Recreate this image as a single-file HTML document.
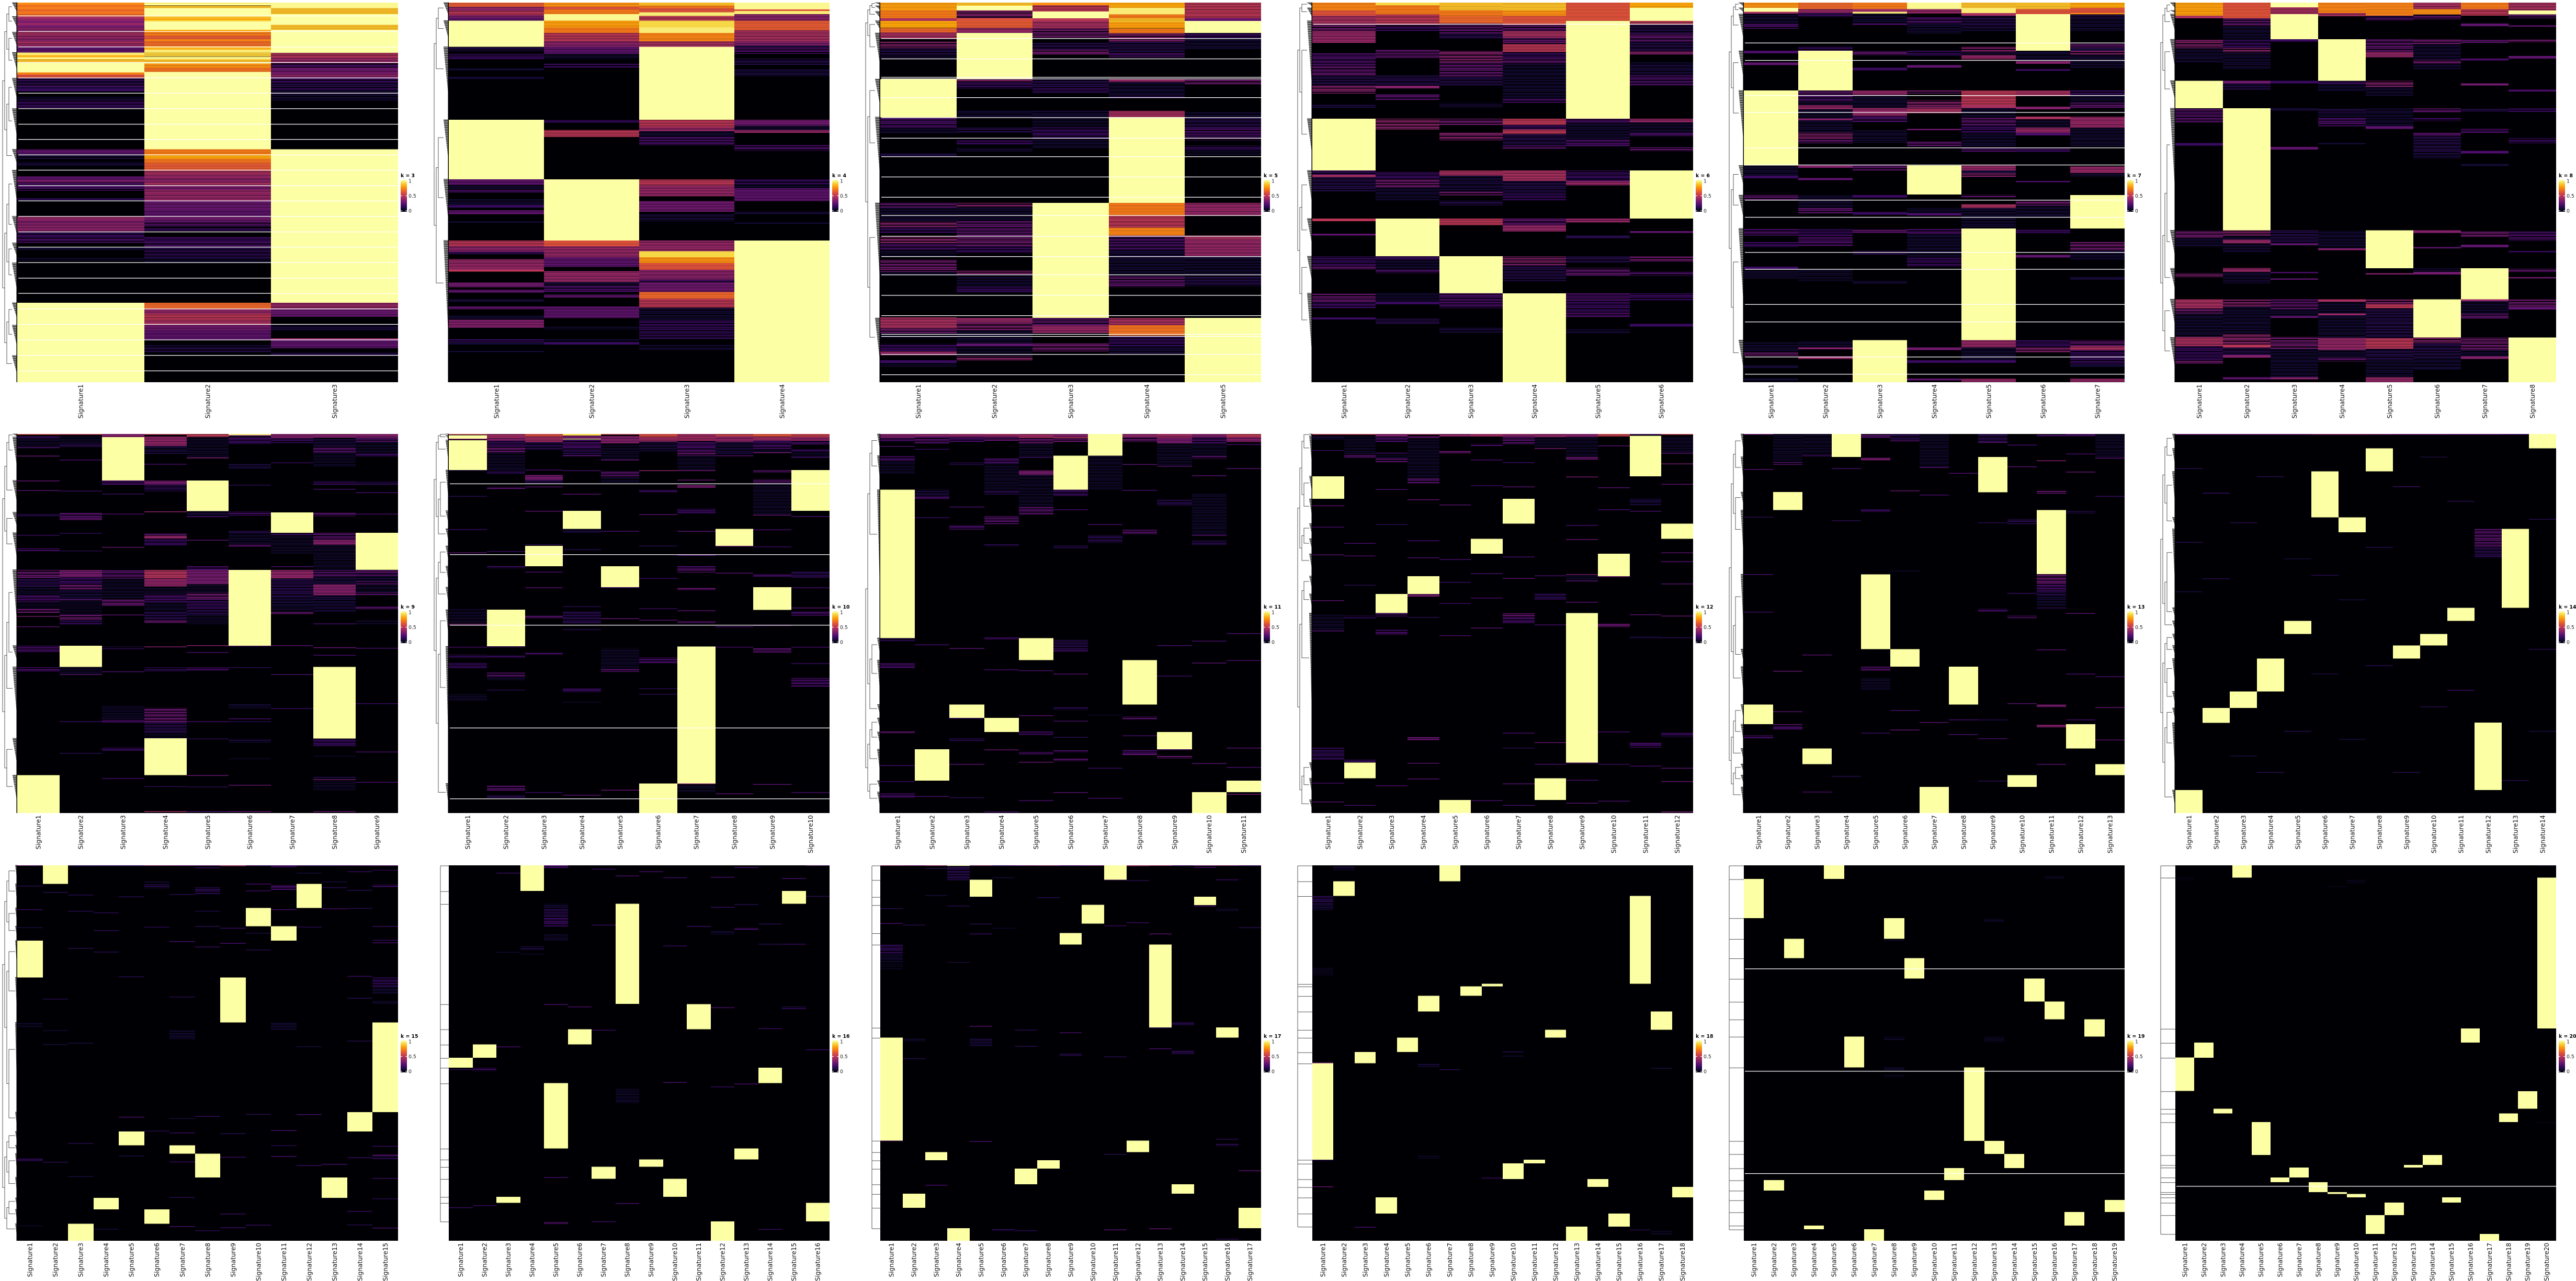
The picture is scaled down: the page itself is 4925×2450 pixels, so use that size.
<!DOCTYPE html>
<html lang="en">
<head>
<meta charset="utf-8">
<title>Signature heatmaps, k = 3 to k = 20</title>
<style>
html,body{margin:0;padding:0;background:#fff;width:4925px;height:2450px;overflow:hidden}
svg{display:block}
text{font-family:"DejaVu Sans","Liberation Sans",sans-serif}
</style>
</head>
<body>
<svg id="figure" xmlns="http://www.w3.org/2000/svg" width="4925" height="2450" viewBox="0 0 4925 2450">
<rect x="0" y="0" width="4925" height="2450" fill="#ffffff"/>
</svg>
<script>
/* Row data: every column is a flat list of (start row, value) pairs; a run ends at the next start row. */
const inferno = ["#000004","#160b39","#420a68","#6a176e","#932667","#bc3754","#dd513a","#f37819","#fca50a","#f6d746","#fcffa4"];
const legendTicks = [0,0.5,1];
const legendTickLabels = ["0","0.5","1"];

const k3Domain=[10,1381];
const k3Gaps=[58,114,170,226,282,337,393,449,504,560,615,671,726,782,838,893,949,1005,1060,1116,1172,1228,1284,1340];
const k3Clades=[10,60,117,190,283,393,540,615,782,878,950,1094,1175,1285];
const k3Columns=[
[10,.75,18,.68,26,.72,34,.65,42,.7,50,.66,60,.5,68,.42,76,.38,84,.45,92,.35,100,.42,117,.5,128,.45,140,.42,150,.5,160,.45,170,.3,190,.95,200,.82,207,.98,214,.85,226,1,262,.72,270,.6,283,.2,295,.15,305,.25,315,.12,322,.2,330,.03,337,0,350,.1,362,.2,390,0,540,.3,558,.12,575,.03,585,.12,600,.05,612,0,637,.3,650,.38,660,.25,672,.25,690,0,716,.15,724,0,782,.45,795,.4,815,.42,838,.2,860,.25,878,.02,895,.1,905,0,930,.08,945,0,1094,1],
[10,.95,15,1,20,.85,30,1,60,.85,68,.8,73,.9,78,1,108,.8,117,.7,130,.62,142,.72,150,.66,168,.85,172,.82,180,.95,190,.88,205,.97,215,.85,226,1,230,.75,245,.68,260,1,540,.7,558,.8,575,.68,590,.62,617,.5,632,.45,645,.42,660,.5,672,.38,686,.45,728,.33,760,.3,782,.35,800,.28,818,.02,825,.2,838,.05,855,.22,875,.25,895,.17,932,.1,950,.05,970,0,1094,.65,1118,.45,1134,.55,1155,.5,1175,.35,1195,.3,1228,.02,1245,.1,1255,.15,1272,.05,1285,0],
[10,.98,30,.85,52,1,90,.85,108,1,191,.52,210,.45,229,.25,245,.35,265,.42,283,.22,300,.15,315,.2,325,.12,338,.1,365,0,387,.03,393,0,540,1,1094,.45,1118,.33,1145,.05,1175,.12,1195,0,1222,.45,1228,.3,1258,.05,1272,.15,1285,0]
];

const k4Domain=[10,1381];
const k4Gaps=[];
const k4Columns=[
[10,.62,25,.45,40,.55,55,.4,65,.3,75,1,170,.15,185,.05,195,.2,215,0,248,.1,255,.05,278,.1,286,0,433,1,648,.3,668,.1,682,.25,695,.05,720,.1,742,.2,750,.02,760,.3,775,.05,800,.1,805,0,869,.55,890,.42,910,.2,920,.02,936,.45,975,.55,982,0,1020,.35,1038,.05,1047,.3,1058,.05,1082,.1,1090,0,1107,.3,1118,.05,1140,.1,1155,.4,1185,0,1225,.2,1237,.1,1245,.05,1268,.1,1272,0],
[10,.75,25,.6,35,.7,52,.98,75,.78,100,.7,120,.55,150,.42,170,.3,195,.1,215,.02,230,.2,245,.05,250,0,433,.2,445,.05,470,.55,495,.02,547,.05,560,0,648,1,869,.6,890,.45,930,.3,965,.02,980,.45,1020,.1,1030,.25,1055,.05,1065,.3,1075,.02,1107,.3,1150,.02,1180,.1,1190,.02,1225,.1,1237,.2,1245,.02,1270,0],
[10,.85,20,.7,30,.6,45,.95,58,.55,75,.9,100,.95,120,.72,150,.5,170,1,433,.55,460,.45,475,.1,495,.25,527,.02,550,.05,560,0,648,.55,670,.45,710,.02,727,.35,765,.05,775,.12,800,.03,815,0,869,.45,908,.9,930,.75,950,.6,975,.42,1010,.25,1020,.35,1055,.65,1080,.55,1112,.1,1155,.2,1182,.18,1225,.05,1245,.1,1268,0],
[10,.98,35,.6,40,.95,52,.42,75,.62,110,.5,150,.4,165,.1,170,.25,195,.05,212,.15,235,.05,250,.12,278,0,433,.35,455,.1,470,.45,480,.05,525,.25,545,.05,558,0,648,.2,665,.1,680,.3,727,.05,765,.12,775,.05,800,.1,810,0,869,1]
];

const k5Domain=[10,1469];
const k5Gaps=[148,226,297,303,375,452,531,602,680,758,828,908,986,1056,1135,1213,1285,1293,1362,1440];
const k5Columns=[
[10,.78,40,.7,70,.5,80,.8,108,.65,125,.5,150,.05,160,.4,185,.15,210,.08,226,0,304,1,451,.25,490,.1,515,.02,590,.12,600,0,780,.3,800,.1,850,.4,875,.2,895,.02,910,.42,935,.25,960,.08,986,0,998,.35,1045,.1,1060,0,1220,.5,1262,.35,1280,.1,1300,.05,1320,.2,1350,.45,1365,.05,1385,.2,1395,.08,1410,0],
[10,.85,22,1,40,.4,70,.6,80,.62,108,.45,127,1,304,.4,315,.2,340,0,426,.1,450,.03,490,.15,510,.05,540,.22,555,.02,570,.12,582,0,780,.4,795,.1,850,.3,875,.3,905,.35,945,.2,975,.05,1040,.4,1055,.1,1102,.2,1125,0,1222,.45,1240,.38,1270,.1,1320,.3,1330,.08,1370,.42,1385,0],
[10,.75,20,.55,44,1,70,.55,80,.5,110,.35,145,.05,165,.15,190,.35,210,.05,226,0,304,.15,335,.18,360,.05,426,.12,450,.08,490,.2,530,.1,570,.02,600,0,780,1,1222,.3,1250,.45,1280,.05,1320,.35,1350,.05,1400,0],
[10,.8,30,.95,55,.7,70,.85,85,.78,110,.7,128,.4,160,.15,205,.25,220,0,304,.45,315,.1,364,.15,375,0,426,.5,450,1,780,.7,830,.55,875,.72,905,.25,960,.12,1000,.1,1060,.3,1105,.05,1125,0,1222,.5,1250,.68,1290,.2,1330,.12,1360,.05,1410,0],
[10,.55,70,.3,80,1,127,.2,145,.1,190,.02,226,0,304,.35,325,.05,345,0,430,.1,450,.15,490,.25,540,.05,560,.2,575,.08,600,0,780,.45,830,.05,905,.5,920,.45,985,.1,1060,.15,1100,0,1222,1]
];

const k6Domain=[10,1469];
const k6Gaps=[93];
const k6Columns=[
[10,.72,40,.6,60,.5,95,.35,120,.45,165,.05,205,.25,250,.3,290,.15,330,.4,360,.05,400,.12,415,0,456,1,655,.2,672,.5,680,.15,735,0,840,.55,850,.05,898,.3,905,0,985,.2,1020,.3,1035,.05,1080,0,1127,.32,1160,.22,1185,.05,1220,.2,1228,.05,1265,0],
[10,.9,20,.7,55,.55,95,.2,120,.05,190,.3,225,.05,290,.15,330,.4,340,.05,362,.28,385,.05,415,0,456,.42,497,.05,600,0,660,.2,690,.35,720,.1,770,.05,780,0,840,1,985,.2,1000,.1,1035,.25,1050,.05,1080,0,1127,.1,1160,.2,1170,.05,1225,.15,1245,.03,1265,0],
[10,.85,40,.7,60,.65,90,.3,130,.15,150,.05,195,.4,240,.3,295,.15,330,.05,395,.1,415,0,456,.35,480,.05,510,.4,540,.05,600,0,655,.5,675,.12,735,.35,750,.05,770,.15,790,0,840,.55,865,0,985,1,1127,.25,1185,.05,1260,.12,1280,0],
[10,.85,40,.75,60,.6,95,.3,120,.5,145,.32,170,.55,200,.2,225,.3,245,.1,380,.25,395,.05,420,0,456,.55,480,.2,497,.55,515,.15,560,.3,572,.05,600,0,655,.5,695,.15,745,.2,770,.05,790,0,840,.3,865,.45,890,.05,920,0,985,.4,1020,.15,1080,0,1127,1],
[10,.6,80,1,456,.25,475,.1,535,.25,565,.05,600,0,655,.2,695,.45,712,.05,740,0,840,.45,855,.05,905,.15,915,0,985,.15,1010,.05,1030,.3,1060,.05,1127,.25,1160,.2,1197,.25,1220,.05,1265,.1,1282,0],
[10,.8,30,1,80,.55,95,.15,130,.3,160,.15,195,.4,210,.05,240,.12,290,.25,330,.05,415,0,456,.45,470,.1,510,.25,525,.05,565,.3,580,0,655,1,840,.05,888,.3,895,0,985,.35,1005,.05,1045,.25,1060,0,1127,.2,1155,.05,1245,.2,1255,0]
];

const k7Domain=[10,1469];
const k7Gaps=[165,232,367,432,568,634,769,835,970,1035,1170,1237,1372,1438];
const k7Columns=[
[10,.75,30,1,45,.5,52,.1,90,.25,110,.05,165,0,195,.25,205,.05,240,.3,250,.05,285,0,348,1,636,.1,675,.2,685,.05,705,0,748,.3,770,.05,825,0,880,.25,905,.05,930,.22,950,.05,1025,.2,1035,.1,1070,0,1315,.1,1355,.35,1368,.05,1405,.1,1415,0,1455,.1,1462,0],
[10,.65,35,.45,50,.2,65,.05,120,0,180,.2,195,1,348,.3,368,.25,390,.1,405,.45,420,.1,455,.4,462,.1,510,.4,535,.3,552,0,585,.05,636,.4,645,.05,684,.3,692,.05,748,.1,800,.3,820,.05,880,.2,905,.25,945,.05,1035,.08,1080,0,1310,.1,1335,.4,1342,.05,1370,.45,1380,0],
[10,.7,35,.45,45,.95,52,.1,90,.25,95,0,165,.05,195,.3,215,.05,260,.2,270,.05,340,0,348,.45,365,.1,415,.45,445,.25,470,.05,500,.1,550,0,636,.3,655,.05,700,0,750,.2,760,.05,815,.2,825,0,880,.3,895,.05,965,.2,978,.05,1035,.05,1080,.08,1090,0,1307,1],
[10,.98,35,.45,52,.02,65,.25,90,.1,130,0,195,.2,215,.05,250,.3,260,.02,340,0,348,.35,360,.05,385,.4,415,.5,435,.05,495,.35,500,.03,545,.3,565,0,636,1,748,.05,800,.1,820,.25,828,0,880,.25,900,.1,990,.2,1025,.05,1035,0,1335,.35,1345,.05,1385,.2,1395,0,1455,.3,1462,0],
[10,.85,30,.95,50,.5,60,.15,105,.1,120,0,180,.4,200,.1,212,.45,228,.05,290,0,348,.55,405,.5,415,.1,450,.3,480,.2,510,.1,570,.25,585,.05,636,.45,655,.1,665,.4,680,.05,748,.3,760,.05,785,.5,800,.1,878,1,1307,.45,1335,.1,1385,.2,1395,0,1455,.45,1468,0],
[10,.85,35,.6,54,1,195,.1,235,.4,245,.05,265,.2,272,0,348,.5,370,.05,410,.4,420,.05,448,.5,458,.1,490,.45,510,.25,520,.05,570,.2,585,0,636,.05,695,.25,700,0,770,.35,790,.1,835,0,880,.2,900,.05,980,.3,990,.05,1035,0,1307,.2,1335,.4,1355,.05,1410,0],
[10,.8,30,.6,50,.75,55,.15,70,.1,120,0,165,.3,185,.1,195,.4,210,.1,260,0,348,.2,365,.1,395,.3,415,.05,448,.45,490,.1,522,.1,565,0,640,.45,665,.1,680,.05,750,1,878,.05,930,.35,965,.1,1000,0,1065,.1,1075,0,1307,.3,1330,.5,1345,.2,1400,.1,1410,0,1455,.45,1468,0]
];

const k8Domain=[10,1469];
const k8Gaps=[];
const k8Columns=[
[10,.78,60,.5,70,.05,152,.4,185,.1,240,.05,310,1,416,.28,470,.05,550,.2,560,.05,615,0,885,.35,915,.1,950,0,1050,.38,1065,.05,1085,0,1150,.5,1185,.35,1205,.1,1295,.5,1330,.2,1385,.35,1400,.05,1465,0],
[10,.6,70,.3,100,.1,155,.2,185,.42,200,.1,265,.05,310,.35,320,.15,345,0,416,1,885,.4,905,.1,920,.45,935,.1,970,0,1030,.45,1045,.1,1090,0,1150,.4,1180,.1,1283,.42,1325,.55,1335,.15,1365,.4,1375,.05,1450,.3,1458,0],
[10,1,28,.5,54,1,151,.2,160,.02,300,0,310,.2,320,.05,416,.1,425,0,565,.3,575,.05,630,0,885,.15,935,.3,942,0,1045,.25,1050,.05,1070,.3,1075,0,1150,.3,1190,.1,1215,.3,1222,.05,1295,.35,1340,.1,1450,.4,1458,0],
[10,.72,50,.5,62,.05,151,1,310,.2,325,.1,350,.02,416,.15,435,.1,452,.25,485,.02,550,.1,555,0,885,.1,955,.4,962,.05,1000,0,1150,.5,1160,.1,1205,.45,1212,.1,1298,.45,1345,.1,1375,.3,1390,.05,1410,0],
[10,.72,60,.25,80,.05,151,.3,200,.45,220,.05,310,.4,335,.1,370,.05,416,.1,485,.3,495,.05,575,.05,600,0,885,1,1031,.05,1050,.4,1055,0,1150,.4,1170,.55,1185,.15,1300,.55,1340,.15,1385,.1,1450,.45,1468,0],
[10,.5,35,.75,55,.3,75,.05,152,.35,170,.1,230,.35,245,.1,265,0,310,.05,416,.3,435,.05,452,.22,465,.05,510,.28,525,.15,590,.12,610,0,885,.4,895,.05,950,.3,955,0,1031,.1,1045,.35,1055,.02,1150,1,1297,.4,1320,.15,1375,.1,1415,.1,1420,0],
[10,.7,35,.55,60,.05,90,.3,100,0,152,.3,165,.05,225,.25,232,0,320,.35,328,0,416,.15,430,.02,495,.25,510,.02,580,.25,590,.02,630,.1,638,0,890,.35,910,.05,940,.3,950,.02,1031,1,1150,.45,1158,.1,1205,.3,1225,.05,1297,.35,1345,.1,1370,.4,1380,.05,1450,0],
[10,.5,40,1,55,.3,70,.05,97,.3,102,0,152,.35,165,.05,215,.3,225,.05,345,.25,352,0,416,.2,430,.05,530,.2,552,.05,625,.05,630,0,890,.25,925,.05,965,.2,970,0,1031,.3,1045,.02,1065,.35,1070,0,1150,.35,1180,.3,1190,0,1297,1]
];

const k9Domain=[57,1427];
const k9Gaps=[];
const k9Columns=[
[57,.8,65,.25,75,.1,105,.35,112,.02,135,.4,142,0,225,.4,228,.02,260,.35,264,0,345,.2,355,.02,422,.25,430,.05,470,.3,480,.05,548,.4,580,.2,610,.1,640,.3,665,.08,688,.42,703,.05,715,.45,720,.05,752,.35,760,0,822,.3,848,.02,900,.3,915,0,1290,1],
[57,.7,66,.1,90,.2,105,.02,150,.3,155,0,225,.05,262,.25,268,0,342,.35,365,.4,372,0,415,.2,420,.02,478,.2,482,0,548,.45,575,.25,600,.42,620,.15,655,.4,660,.08,710,.42,730,.2,742,.3,748,0,822,1,899,.1,925,.35,932,0,1095,.25,1100,0,1210,.2,1215,0],
[57,.5,68,1,225,.3,240,.05,272,.25,278,0,345,.3,350,.02,465,.4,472,.05,548,.35,580,.1,655,.4,680,.05,710,.35,716,0,825,.2,835,.02,915,.3,922,0,1040,.1,1090,.3,1100,.05,1190,.25,1202,0,1300,.3,1305,0],
[57,.7,66,.55,100,.15,130,.05,165,.3,172,.02,225,.45,240,.2,265,.05,280,0,337,.55,345,.02,415,.35,425,.55,435,.25,460,.05,548,.65,580,.55,608,.1,635,.3,665,.1,700,.2,730,.4,742,.05,825,.5,830,.02,900,.2,915,.02,940,.05,965,0,1045,.4,1100,.2,1140,.08,1157,1,1290,.02,1330,.2,1335,0,1420,.6],
[57,.7,67,.1,142,.5,150,.05,225,1,336,.15,355,.3,362,.05,440,.35,445,0,535,.3,548,.45,600,.1,630,.42,655,.25,690,.2,710,.1,745,0,820,.5,824,.05,845,.3,850,.05,900,.3,912,0,1095,.3,1100,0,1158,.2,1165,0,1290,.4,1298,0,1332,.2,1338,0,1420,.3],
[57,.95,62,.3,82,.25,95,.05,165,.15,182,.02,240,.2,248,0,338,.3,352,.05,405,.2,415,.1,455,.35,465,.05,505,0,548,1,822,.25,830,.02,900,.2,905,0,1032,.12,1048,0,1085,.3,1090,.02,1095,.2,1102,0,1160,.15,1172,.02,1230,.1,1235,0,1325,.4,1330,.02,1420,.4],
[57,.5,72,.25,90,.05,160,.25,165,0,340,1,414,.25,425,.1,490,.05,535,.3,540,.02,548,.55,580,.2,645,.15,680,.1,700,.4,710,.05,740,0,820,.35,825,.05,925,.3,930,0,1048,.25,1052,0],
[57,.5,70,.15,103,.35,125,.1,175,0,228,.25,240,.05,255,.3,262,0,340,.35,355,.05,414,.35,440,.5,458,.1,548,.35,575,.15,600,.5,640,.15,700,.05,742,.3,750,.02,780,0,828,.4,833,.02,855,.3,860,0,899,1,1158,.25,1188,.02,1220,.1,1226,0,1295,.15,1305,.45,1312,.1,1345,0,1420,.4,1423,0],
[57,.5,70,.35,85,.1,125,.25,140,.05,175,0,228,.2,240,.02,268,.3,272,0,345,.3,352,.02,414,1,548,.35,570,.15,590,.35,600,.1,630,.35,640,.05,680,.35,690,.05,730,.1,745,0,830,.3,838,0,1030,.25,1034,0,1205,.3,1212,0,1315,.3,1320,0]
];

const k10Domain=[60,1468];
const k10Gaps=[245,508,770,1152,1415];
const k10Columns=[
[60,.75,65,1,77,.5,83,1,194,.15,203,.02,290,.2,296,0,413,.25,418,.02,500,.35,505,.02,710,.1,765,.45,772,.02,850,.3,855,.05,880,.22,892,.02,910,.25,932,.02,1025,.1,1052,.05,1060,0],
[60,.6,75,.5,85,.25,110,.4,128,.1,194,.2,210,.05,255,.35,265,.02,495,.25,503,.02,550,.25,560,.02,713,1,849,.25,857,.05,882,.25,892,.05,947,.35,962,.1,975,.05,1010,.2,1015,0,1365,.35,1385,.05,1400,.2,1412,0],
[60,.8,70,.6,90,.2,120,.05,192,.3,197,.05,212,.45,232,.2,245,.02,255,.35,260,.02,345,.35,350,.02,470,.2,476,1,551,.05,572,.3,577,.02,630,.35,638,.02,735,.35,745,.02,872,.3,882,.05,1390,.25,1395,0],
[60,.9,66,.45,77,.98,80,.3,115,.2,140,.35,145,.02,195,.3,200,.02,282,.35,290,0,345,1,412,.15,428,.02,488,.2,492,0,700,.2,704,.02,720,.2,745,.2,760,.2,765,.02,785,.2,790,0,1005,.25,1020,.02,1055,.1,1062,0,1400,.35,1405,0],
[60,.7,68,.5,92,.5,100,.1,155,.4,163,.05,200,.35,220,.1,245,.02,290,0,420,.3,424,0,551,1,629,.25,636,.02,745,.4,750,.02,855,.1,932,.35,945,.02,1382,.4,1390,0],
[60,.8,72,.6,88,.15,125,.05,195,.55,199,.02,268,.25,278,.02,345,.05,358,.35,363,.02,475,.2,480,.02,595,.25,600,.02,708,.25,713,.02,750,.35,755,.02,890,.3,912,.02,1005,.2,1010,0,1025,.2,1030,0,1358,1],
[60,.6,85,.3,125,.4,140,.1,195,.45,200,.02,230,.4,235,.02,250,.45,260,.02,338,.25,358,.02,420,.35,425,.02,510,.3,515,.02,550,.3,560,.35,575,.02,630,.4,640,.02,715,.35,722,.02,755,.35,765,.02,849,1,1358,.45,1365,.1,1390,0],
[60,.75,70,.55,90,.15,140,.35,145,.02,412,1,476,.35,485,.02,576,.35,580,.02,775,.3,782,.02,850,.3,855,0,1395,.35,1400,0],
[60,.85,70,.6,85,.25,96,.3,115,.1,128,.45,132,.05,195,.35,205,.05,228,.35,243,.1,360,.4,365,.02,414,.3,422,.02,478,.25,485,.02,580,.3,590,.02,629,1,713,.05,770,.3,778,.02,855,.35,872,.02,1360,.35,1368,0],
[60,.75,72,.55,85,.3,100,.05,115,.25,125,.1,145,.3,152,.02,194,1,345,.05,365,.3,370,0,570,.2,590,.25,595,.02,630,.3,636,.02,705,.35,712,.02,720,.3,735,.05,850,.3,855,.05,912,.25,920,.05,965,.3,1000,.05,1055,0,1390,.3,1394,0]
];

const k11Domain=[60,1468];
const k11Gaps=[];
const k11Columns=[
[60,.5,75,.3,90,.05,105,.3,110,0,143,.3,160,.1,210,.05,230,0,267,1,818,.2,830,.05,870,0,912,.3,932,.05,960,.05,975,0,1165,.4,1175,.02,1235,.05,1290,.3,1298,.05,1350,.25,1355,.02,1395,.3,1412,.05,1425,0],
[60,.55,70,.35,95,.05,115,.25,120,0,267,.15,290,.3,303,.02,370,.25,375,0,842,.3,847,0,1231,1,1348,.05,1405,.3,1410,0],
[60,.55,72,.3,90,.05,165,.2,175,.02,330,.3,335,.02,397,.3,415,.02,855,.35,860,.02,1065,1,1115,.25,1120,.02,1190,.2,1200,0,1285,.35,1292,0,1410,.2,1416,0],
[60,.6,70,.4,85,.05,150,.3,170,.1,270,.2,285,.02,365,.35,395,.05,470,.2,480,0,815,.3,825,.02,935,.3,940,0,1115,1,1167,.02,1232,.4,1240,.02,1462,.3,1466,0],
[60,.6,75,.4,95,.1,145,.3,150,.02,195,.45,212,.1,330,.35,360,.05,400,0,818,1,900,.02,938,.3,945,0,1105,.35,1110,0,1165,.3,1178,.02,1240,.3,1250,.02,1278,.4,1285,.02,1420,.3,1425,0],
[60,.5,72,.7,76,.4,90,.05,141,1,267,.25,292,.05,340,.3,345,.02,475,.2,485,0,825,.2,865,.3,870,0,950,.35,955,0,1075,.2,1085,0,1125,.3,1130,0,1185,.2,1190,0,1235,.3,1245,.05,1265,.35,1278,.05,1390,.35,1396,0],
[60,1,141,.1,268,.05,395,.3,402,.05,435,.2,465,.05,480,0,1103,.1,1110,0,1300,.25,1305,0,1412,.3,1420,0],
[60,.55,72,.4,90,.05,172,.35,180,.02,268,.3,272,.02,415,.35,432,.02,900,1,1065,.02,1110,.35,1122,.02,1180,.3,1185,.02,1232,.3,1250,.4,1258,.02],
[60,.6,75,.45,95,.1,178,.35,187,.02,305,.2,327,.02,845,.3,850,.02,958,.25,962,.02,1167,1,1231,.3,1240,.05,1255,.4,1265,.02],
[60,.5,72,.3,95,.1,142,.35,152,.05,213,.35,217,.02,280,.1,435,.35,438,.02,455,.2,472,.02,828,.3,832,.02,910,.35,915,.02,1283,.35,1287,.02,1390,1],
[60,.7,72,.5,90,.05,98,.3,105,.02,187,.35,195,.02,800,.3,808,.02,900,.3,908,.02,1225,.35,1232,.02,1297,.3,1302,.02,1348,1,1390,0,1397,.4,1402,0]
];

const k12Domain=[60,1468];
const k12Gaps=[];
const k12Columns=[
[60,.7,68,.15,80,.05,120,.25,125,0,217,1,301,.05,325,.35,332,0,405,.3,408,0,508,.35,512,0,678,.35,682,0,730,.1,790,.35,795,0,1225,.22,1270,.02,1355,.3,1358,0,1425,.35,1430,0],
[60,.7,68,.1,135,.35,148,.02,465,.3,468,0,512,.3,516,0,620,.2,625,0,735,.25,745,0,1270,.25,1281,1,1339,0,1438,.3,1442,0],
[60,.5,70,.3,90,.05,130,.3,138,.1,150,.35,165,.02,265,.3,269,0,395,.2,400,0,654,1,725,.3,738,.05,787,.3,808,.05,820,0,1365,.3,1368,0],
[60,.6,68,.4,78,.1,225,.35,243,.02,303,.4,308,0,455,.3,459,0,518,.3,522,0,588,1,654,.45,664,.02,740,.2,745,0,1185,.4,1200,0,1282,.35,1286,0,1340,.35,1344,0],
[60,.55,70,.05,122,.4,132,.02,322,.35,326,0,525,.3,529,0,610,.25,614,0,688,.25,692,0,808,.3,812,0,1419,1],
[60,.6,70,.05,95,.3,105,.05,155,.3,162,.02,250,.25,254,0,449,1,505,.05,578,.3,582,0,668,.3,672,0,780,.35,788,0,1420,.3,1425,0],
[60,.55,70,.35,98,.05,165,.25,170,0,255,.35,260,0,301,1,393,.05,515,.3,520,0,595,.35,602,0,725,.4,740,.3,765,.02,1170,.3,1175,.02,1225,.2,1232,0,1358,.35,1362,0,1438,.3,1442,0],
[60,.55,72,.1,112,.45,120,.02,585,.3,590,0,650,.2,672,.25,680,.02,768,.3,772,0,1205,.4,1210,.02,1285,.3,1290,0,1339,1,1419,0],
[60,.5,72,.1,145,.4,155,.02,218,.45,226,.02,398,.3,402,0,450,.4,456,0,580,.45,585,.1,605,.35,610,0,683,.35,688,0,725,1,1281,.3,1290,.02,1345,.3,1350,0,1430,.35,1435,0],
[60,.75,70,.05,103,.35,110,.05,258,.35,262,0,340,.3,344,0,505,1,588,.4,592,0,765,.4,780,.02,1165,.3,1170,.02,1285,.25,1290,0,1422,.3,1426,0],
[60,.3,67,1,217,.05,300,.15,325,.02,345,.3,349,0,730,.35,735,0,810,.15,820,.02,1207,.3,1225,.02,1292,.3,1295,0],
[60,.75,68,.1,130,.35,135,.02,170,.45,178,.02,245,.35,250,0,393,1,449,0,500,.35,505,0,533,.35,538,0,615,.35,620,0,735,.4,740,.02,815,.2,820,0,1170,.25,1185,.02,1300,.35,1304,0,1350,.4,1354,0,1462,.45,1468,0]
];

const k13Domain=[60,1468];
const k13Gaps=[];
const k13Columns=[
[60,.4,66,.02,190,.35,196,0,368,.2,372,0,580,.3,585,.02,720,.25,724,0,1065,1,1138,.02,1180,.3,1190,.02],
[60,.1,165,.35,175,.02,276,1,343,.02,940,.4,946,.02,1090,.35,1096,.02,1138,.4,1145,.3,1157,.02],
[60,.1,140,.3,144,.02,880,.35,884,0,1228,1,1286,.02,1388,.3,1392,0],
[60,1,145,.02,187,.3,190,0,380,.2,385,0,1330,.2,1338,0],
[60,.35,75,.05,148,.45,158,.02,340,.25,350,.02,581,1,859,.05,924,.35,940,.02,968,.1,1010,0,1170,.25,1175,0],
[60,.2,84,.35,92,.02,270,.4,278,.02,568,.12,575,0,859,1,924,.02,1085,.3,1090,0,1158,.4,1166,.02],
[60,.1,183,.35,186,0,285,.3,290,0,1130,.35,1135,0,1371,1],
[60,.05,205,.3,208,0,924,1,1065,.02,1120,.3,1125,.02,1175,.3,1178,0],
[60,.2,90,.35,97,.02,145,1,276,.02,388,.2,392,0,710,.3,720,.02,1120,.2,1125,.02,1190,.3,1195,0,1348,.2,1355,0],
[60,.05,100,.3,104,0,180,.35,184,0,375,.2,395,.05,650,.25,658,.02,735,.35,745,.02,1060,.35,1065,0,1327,1,1371,0],
[60,.3,70,.02,158,.5,165,.02,272,.4,282,0,343,1,581,.4,620,.3,645,.2,660,.12,700,.02,705,.25,710,0,860,.35,865,0,1065,.45,1075,.02,1140,.5,1150,.02,1285,.35,1290,0],
[60,.3,70,.02,133,.3,137,.02,200,.4,204,0,345,.2,355,.02,725,.35,730,0,950,.3,958,0,1120,.3,1125,.02,1138,1,1228,.02],
[60,.1,148,.35,152,0,290,.25,295,.02,960,.3,965,0,1075,.4,1082,.02,1195,.35,1198,.02,1286,1,1327,0]
];

const k14Domain=[264.2,495];
const k14Gaps=[];
const k14Columns=[
[264.2,.4,265.5,0,285,.2,286,0,330,.2,331,0,360,.15,361,0,481,1],
[264.2,.4,265.5,0,300,.25,301,0,352,.2,353,0,431,1,440,0],
[264.2,.4,265.5,0,318,.2,319,0,421,1,431,0,460,.15,461,0],
[264.2,.4,265.5,0,290,.2,291,0,401,1,421,0,470,.2,471,0],
[264.2,.4,265.5,0,340,.15,341,0,378,1,386,0,445,.2,446,0],
[264.2,.5,265.5,0,287,1,315,0,350,.2,351,0,410,.15,411,0],
[264.2,.5,265.5,0,315,1,324,0,365,.15,366,0,450,.15,451,0],
[264.2,.45,265.5,0,273,1,287,0,333,.2,334,0,405,.2,406,0],
[264.2,.4,265.5,0,296,.25,297,0,393,1,401,0,470,.2,471,0],
[264.2,.4,265.5,0,278,.15,279,0,386,1,393,0,430,.2,431,0],
[264.2,.35,265.5,0,305,.2,306,0,370,1,378,0,420,.25,421,0],
[264.2,.35,265.5,0,322,.35,333,.2,340,.05,346,0,440,1,481,0],
[264.2,.3,265.5,0,322,1,370,0,475,.2,476,0],
[264.2,1,273,0,316,.2,317,0,395,.2,396,0,445,.15,446,0]
];

const k15Domain=[66,1423];
const k15Gaps=[];
const k15Columns=[
[66,.4,68,0,140,.2,148,0,225,.25,230,0,290,.15,297,0,338,1,471,0,635,.1,650,.05,660,0,1125,.22,1135,0,1368,.15,1370,0],
[66,1,133,0,162,.2,166,0,548,.2,552,0,662,.12,666,0,712,.15,717,0,1138,.2,1142,0],
[66,.2,72,0,172,.2,176,0,230,.2,234,0,365,.2,370,0,708,.15,712,0,1070,.2,1074,0,1190,.15,1194,0,1362,1],
[66,.3,68,0,236,.2,240,0,300,.2,304,0,378,.2,382,0,1268,1,1310,0,1380,.15,1384,0],
[66,.3,68,0,178,.2,183,0,468,.2,472,0,975,.3,980,0,1028,1,1078,0,1115,.15,1120,0],
[66,.45,68,0,125,.15,133,.2,148,0,288,.2,292,0,1025,.2,1030,0,1310,1,1362,0],
[66,.4,68,0,170,.2,174,0,340,.3,344,0,540,.2,545,0,662,.12,695,0,980,.15,984,0,1032,.25,1036,0,1078,1,1108,0,1137,.25,1141,0,1265,.2,1269,0,1370,.3,1373,0],
[66,.4,68,0,74,.25,78,0,145,.2,170,0,230,.15,234,0,285,.2,289,0,360,.25,364,0,972,.25,977,0,1108,1,1194,0,1385,.2,1388,0],
[66,.6,69,0,292,.25,296,0,347,.3,356,0,471,1,634,0,1035,.2,1038,0,1120,.25,1124,0,1325,.25,1329,0,1375,.25,1379,0],
[66,.3,68,0,132,.3,135,0,157,.25,160,0,220,1,286,0,310,.15,315,0,370,.2,373,0,965,.2,968,0,1365,.25,1369,0],
[66,.3,70,.25,73,0,135,.3,155,0,225,.3,229,0,286,1,338,0,635,.12,660,0,1023,.3,1026,0,1078,.2,1082,0,1117,.3,1121,0],
[66,.3,68,0,92,.15,97,0,133,1,220,0,288,.2,291,0,720,.15,727,0,966,.3,972,0,1150,.25,1154,0],
[66,.3,68,0,125,.15,128,0,145,.2,150,0,222,.3,226,0,1145,.3,1149,0,1194,1,1268,0],
[66,.3,68,0,88,.25,92,0,155,.2,158,0,220,.2,224,0,466,.25,470,0,545,.2,548,0,700,.2,706,0,958,1,1028,0,1122,.25,1125,0,1315,.25,1318,0,1364,.2,1367,0],
[66,.35,68,0,82,.2,85,0,135,.25,145,0,285,.25,288,0,335,.25,338,0,345,.3,348,0,471,.22,505,.12,530,0,555,.1,570,0,634,1,958,0,1080,.25,1083,0,1112,.4,1116,.2,1128,0,1196,.25,1199,0,1270,.2,1273,0,1376,.3,1379,0]
];

const k16Domain=[48,1423];
const k16Gaps=[];
const k16Columns=[
[753,1,789,0,795,.2,800,0,1300,.25,1304,0],
[704,1,753,0,790,.25,802,0,1293,.25,1296,0],
[75,.25,80,0,365,.12,372,0,712,.3,716,0,1262,1,1284,0],
[48,1,142,0,345,.15,358,0,372,.1,378,0],
[48,.4,50,.25,60,0,189,.12,205,.2,240,.25,272,0,300,.1,325,0,556,.3,560,0,846,1,1085,0,1190,.3,1197,0,1352,.35,1362,0],
[565,.3,568,0,648,1,704,0],
[60,.25,68,0,265,.25,268,0,650,.25,654,0,1152,1,1196,0,1352,.25,1355,0],
[85,.3,88,0,189,1,556,0,865,.1,920,.03,935,.05,985,0,1285,.3,1290,0],
[70,.3,75,0,1125,1,1152,0],
[92,.25,95,0,342,.25,346,0,842,.3,847,0,1196,1,1262,0],
[270,.25,274,0,556,1,648,0],
[90,.3,93,0,200,.25,208,0,288,.12,302,0,568,.3,572,0,858,.25,862,0,1352,1],
[55,.3,60,0,190,.2,198,0,275,.3,285,0,848,.3,855,0,1085,1,1125,0],
[262,.2,270,0,335,.2,339,0,645,.25,648,0,789,1,846,0,1380,.25,1383,0],
[95,.3,98,0,142,1,189,0,335,.25,340,0,565,.2,575,0],
[48,.35,50,0,160,.2,163,0,722,.25,725,0,1284,1,1352,0]
];

const k17Domain=[48,1423];
const k17Gaps=[];
const k17Columns=[
[48,.5,50,0,205,.2,208,0,260,.3,263,0,338,.22,370,.12,400,.06,430,0,679,1,1056,.3,1058,0],
[48,.4,50,0,265,.2,268,0,680,.1,695,0,755,.2,762,0,1251,1,1302,0],
[48,.6,50,0,58,.2,62,0,157,.15,162,0,1098,1,1128,0,1218,.3,1224,0],
[48,1,50,.2,100,.2,103,0,195,.2,198,0,402,.2,404,0,1377,1],
[48,.5,50,0,101,1,163,0,262,.2,267,0,298,.25,302,0,636,.35,642,0,682,.15,710,0,1058,.3,1063,0],
[48,.3,50,0,92,.15,100,0,277,.1,282,0,1380,.2,1390,0],
[48,.4,50,0,650,.2,658,0,710,.2,718,0,1159,1,1216,0,1385,.2,1389,0],
[48,.5,50,0,165,.2,168,0,1128,1,1159,0],
[48,.3,50,0,296,1,338,0,660,.3,665,0,738,.2,748,0],
[48,.4,50,0,193,1,262,0],
[48,1,101,.3,103,0,268,.25,273,0,748,.2,754,0,1105,.2,1110,0,1382,.35,1385,0],
[48,.6,51,0,103,.2,106,0,257,.25,260,0,1056,1,1098,0],
[48,.6,50,0,298,.35,301,0,338,1,642,.2,648,0,718,.3,725,0,1378,.4,1382,0],
[48,.3,50,0,622,.2,636,0,725,.2,741,0,1216,1,1251,0],
[48,.5,50,0,55,.3,58,0,163,1,193,0,195,.3,200,0],
[48,.45,50,0,100,.25,104,0,205,.1,216,0,642,1,679,0,1050,.2,1056,0,1068,.2,1078,0,1415,.2,1423,0],
[48,.3,50,0,275,.2,278,0,1165,.35,1168,0,1302,1,1377,0]
];

const k18Domain=[48,1423];
const k18Gaps=[];
const k18Columns=[
[55,.05,65,0,160,.2,190,.15,212,0,420,.08,450,.05,482,0,770,.4,773,1,1126,.2,1130,0,1224,.4,1228,0],
[52,.15,65,0,106,1,160,0],
[732,1,773,0,1372,.3,1380,0],
[1264,1,1323,0],
[679,1,732,0],
[526,1,583,0,775,.15,787,0,1112,.1,1122,0],
[48,1,106,0,795,.2,802,0],
[491,1,526,0],
[482,1,491,0,1192,.25,1197,0],
[730,.2,737,0,745,.15,752,0,1140,1,1197,0],
[1126,1,1140,0],
[650,1,679,0],
[1371,1],
[1197,1,1226,0],
[1323,1,1371,0],
[160,1,482,0,1382,.2,1386,0],
[583,1,650,0,790,.15,795,0,1388,.1,1400,0],
[1226,1,1264,0]
];

const k19Domain=[48,1423];
const k19Gaps=[427,802,1177];
const k19Columns=[
[98,1,241,0],
[1201,1,1239,0],
[317,1,388,0],
[1367,1,1381,0],
[48,1,98,0],
[675,1,788,0],
[1381,1],
[241,1,317,0,323,.1,330,0,676,.12,688,0,788,.12,798,0,815,.08,825,0],
[388,1,463,0],
[1239,1,1274,0],
[1157,1,1201,0],
[788,1,1057,0],
[241,.1,255,0,676,.1,696,0,1057,1,1105,0],
[1105,1,1157,0],
[463,1,547,0],
[86,.08,98,0,547,1,612,0],
[1318,1,1367,0],
[612,1,675,0],
[1274,1,1318,0]
];

const k20Domain=[66,1423];
const k20Gaps=[1226];
const k20Columns=[
[110,.06,120,0,761,1,882,0],
[707,1,761,0],
[946,1,963,0],
[66,1,110,0],
[994,1,1113,0],
[1194,1,1211,0],
[1158,1,1194,0],
[1211,1,1247,0],
[142,.06,148,0,1247,1,1254,0],
[118,.06,132,0,1254,1,1266,0],
[1330,1,1398,0],
[1285,1,1330,0],
[1149,1,1158,0],
[1113,1,1149,0],
[1266,1,1285,0],
[656,1,707,0],
[1398,1],
[963,1,994,0],
[882,1,946,0],
[66,.08,70,0,110,1,656,0,995,.06,1003,0]
];

const panelKs=[3,4,5,6,7,8,9,10,11,12,13,14,15,16,17,18,19,20];
const panelColumns=[k3Columns,k4Columns,k5Columns,k6Columns,k7Columns,k8Columns,k9Columns,k10Columns,k11Columns,k12Columns,k13Columns,k14Columns,k15Columns,k16Columns,k17Columns,k18Columns,k19Columns,k20Columns];
const panelDomains=[k3Domain,k4Domain,k5Domain,k6Domain,k7Domain,k8Domain,k9Domain,k10Domain,k11Domain,k12Domain,k13Domain,k14Domain,k15Domain,k16Domain,k17Domain,k18Domain,k19Domain,k20Domain];
const panelGaps=[k3Gaps,k4Gaps,k5Gaps,k6Gaps,k7Gaps,k8Gaps,k9Gaps,k10Gaps,k11Gaps,k12Gaps,k13Gaps,k14Gaps,k15Gaps,k16Gaps,k17Gaps,k18Gaps,k19Gaps,k20Gaps];

const NS='http://www.w3.org/2000/svg';
const svg=document.getElementById('figure');
const HEAT_W=728, PITCH=825.2, LEFT=33;
const rowTop=[5,830,1655], rowBottom=[731,1555,2373], legendTop=[344,1169,1990];

function mk(parent,tag,attrs){
  const el=document.createElementNS(NS,tag);
  for(const key in attrs){el.setAttribute(key,attrs[key]);}
  parent.appendChild(el);
  return el;
}
function hex(c){return [parseInt(c.slice(1,3),16),parseInt(c.slice(3,5),16),parseInt(c.slice(5,7),16)];}
function colorScale(v){
  const t=Math.max(0,Math.min(1,v))*(inferno.length-1);
  const i=Math.min(Math.floor(t),inferno.length-2), f=t-i;
  const a=hex(inferno[i]), b=hex(inferno[i+1]);
  return 'rgb('+a.map((x,j)=>Math.round(x+(b[j]-x)*f)).join(',')+')';
}
function clusterStarts(columns,domain){
  const set=new Set();
  columns.forEach(col=>{for(let i=0;i<col.length;i+=2){if(col[i+1]===1){set.add(col[i]);}}});
  const out=[...set].sort((a,b)=>a-b);
  if(!out.length||out[0]>domain[0]){out.unshift(domain[0]);}
  return out;
}

/* gradient for the colour legends */
const defs=mk(svg,'defs',{});
const grad=mk(defs,'linearGradient',{id:'inferno-ramp',x1:'0',y1:'1',x2:'0',y2:'0'});
inferno.forEach((c,i)=>{mk(grad,'stop',{offset:(i/(inferno.length-1)),'stop-color':c});});

/* fine row texture laid over the striped (non-saturated) bands */
function addTexture(id,opacity,shift){
  const p=mk(defs,'pattern',{id:id,patternUnits:'userSpaceOnUse',x:0,y:0,width:8,height:31,patternTransform:'translate(0,'+shift+')'});
  [[0,2],[3,1],[6,3],[11,1],[13,2],[17,1],[20,3],[25,1],[27,2]].forEach(seg=>{
    mk(p,'rect',{x:0,y:seg[0],width:8,height:seg[1],fill:'#000004','fill-opacity':opacity,'shape-rendering':'crispEdges'});
  });
}
[0,1,2].forEach(i=>{
  addTexture('tex-strong-'+i,0.8,i*11);
  addTexture('tex-weak-'+i,0.3,i*11);
  addTexture('tex-faint-'+i,0.1,i*11);
});

panelKs.forEach((k,idx)=>{
  const rowIdx=Math.floor(idx/6), colIdx=idx%6;
  const x0=Math.round(LEFT+colIdx*PITCH), top=rowTop[rowIdx], bottom=rowBottom[rowIdx];
  const columns=panelColumns[idx], domain=panelDomains[idx], gaps=panelGaps[idx];
  const xCol=i=>x0+i*HEAT_W/k;
  const yRow=r=>top+(r-domain[0])/(domain[1]-domain[0])*(bottom-top);
  const gain=k<=8?0.9:0.72;
  const strongBelow=k<=4?0.3:0.45;

  const panel=mk(svg,'g',{});
  
  

  const bg=mk(panel,'rect',{x:x0,y:top,width:HEAT_W,height:bottom-top,fill:colorScale(0)});
  
  

  columns.forEach((col,c)=>{
    const xa=Math.round(xCol(c)), xb=Math.round(xCol(c+1));
    for(let i=0;i<col.length;i+=2){
      const v=col[i+1];
      if(v<=0.055){continue;}
      const end=i+2<col.length?col[i+2]:domain[1];
      const ya=yRow(col[i]);
      let yb=yRow(end);
      if(yb<=ya){continue;}
      const saturated=v>=0.9;
      const hot=v>=0.6&&k<=8;
      const thin=!saturated&&(yb-ya)<5;
      if(thin&&k>=9){yb=Math.min(yb,ya+1.5);}
      const shown=(saturated||hot)?v:v*gain;
      const band=mk(panel,'rect',{x:xa,y:ya.toFixed(1),width:xb-xa,height:(yb-ya).toFixed(1),fill:colorScale(shown),'shape-rendering':'crispEdges'});
      
      
      if(!saturated&&!thin){
        const kind=hot?'faint':(v<strongBelow?'strong':'weak');
        const tex=mk(panel,'rect',{x:xa,y:ya.toFixed(1),width:xb-xa,height:(yb-ya).toFixed(1),fill:'url(#tex-'+kind+'-'+(c%3)+')'});
        
        
      }
    }
  });

  gaps.forEach(g=>{
    const line=mk(panel,'rect',{x:x0+2,y:(yRow(g)-0.6).toFixed(1),width:HEAT_W-2,height:1.3,fill:'#ffffff'});
    
    
  });

  /* dendrogram */
  const dendro=mk(panel,'g',{fill:'none',stroke:'#555','stroke-width':1});
  
  
  const starts=k===3?k3Clades:clusterStarts(columns,domain);
  const clusters=starts.map((s,i)=>[s,i+1<starts.length?starts[i+1]:domain[1]]);
  let d='';
  if(k>=16){
    const span=k>=18?28:16, lx=x0-span;
    const ys=clusters.map(cl=>yRow(cl[0])+1);
    ys.forEach(y=>{d+='M'+lx+' '+y.toFixed(1)+'H'+x0;});
    d+='M'+lx+' '+ys[0].toFixed(1)+'V'+ys[ys.length-1].toFixed(1);
  }else{
    const leafW=k<=8?10:(k<=9?9:(k<=14?6:4));
    const leafX=x0-leafW, rootX=x0-28;
    const node=(list,depth)=>{
      if(list.length===1){
        return {x:leafX,y:yRow(list[0][0]+(list[0][1]-list[0][0])*0.3)};
      }
      const mid=Math.ceil(list.length/2);
      const a=node(list.slice(0,mid),depth+1), b=node(list.slice(mid),depth+1);
      const x=Math.min(rootX+depth*4,leafX-1);
      d+='M'+a.x+' '+a.y.toFixed(1)+'H'+x+'V'+b.y.toFixed(1)+'H'+b.x;
      return {x:x,y:(a.y+b.y)/2};
    };
    node(clusters,0);
    let teeth='';
    clusters.forEach(cl=>{
      const ya=yRow(cl[0]), yb=yRow(cl[0]+(cl[1]-cl[0])*0.65);
      for(let y=ya;y<yb;y+=1.3){
        const w=1+(leafW-1)*(1-(y-ya)/(yb-ya));
        teeth+='M'+(x0-w).toFixed(1)+' '+y.toFixed(1)+'H'+x0;
      }
    });
    const fuzz=mk(dendro,'path',{d:teeth,stroke:'#111','stroke-width':0.8});
    
    
    const spine=mk(dendro,'rect',{x:x0-1.5,y:top,width:1.5,height:bottom-top,fill:'#000',stroke:'none'});
    
    
  }
  const branches=mk(dendro,'path',{d:d});
  
  

  /* column labels */
  for(let c=0;c<k;c++){
    const cx=xCol(c+0.5);
    const label=mk(panel,'text',{transform:'translate('+(cx+4.3).toFixed(1)+','+(bottom+4)+') rotate(-90)','text-anchor':'end','font-size':'12',fill:'#111'});
    label.textContent='Signature'+(c+1);
    
    
  }

  /* colour legend */
  const lx=x0+HEAT_W+5, ly=legendTop[rowIdx];
  const legend=mk(panel,'g',{});
  
  
  const title=mk(legend,'text',{x:lx,y:ly-5,'font-size':'9.33','font-weight':'bold',fill:'#000'});
  title.textContent='k = '+k;
  
  
  const ramp=mk(legend,'rect',{x:lx,y:ly,width:12,height:61,fill:'url(#inferno-ramp)'});
  
  
  const yLegend=v=>ly+59-v*57;
  legendTicks.forEach((v,i)=>{
    const y=yLegend(v);
    const tl=mk(legend,'rect',{x:lx,y:y-0.5,width:3,height:1,fill:'#ffffff'});
    
    
    const tr=mk(legend,'rect',{x:lx+9,y:y-0.5,width:3,height:1,fill:'#ffffff'});
    
    
    const txt=mk(legend,'text',{x:lx+15,y:(y+3.4).toFixed(1),'font-size':'9.33',fill:'#222'});
    txt.textContent=legendTickLabels[i];
    
    
  });
});
</script>
</body>
</html>
